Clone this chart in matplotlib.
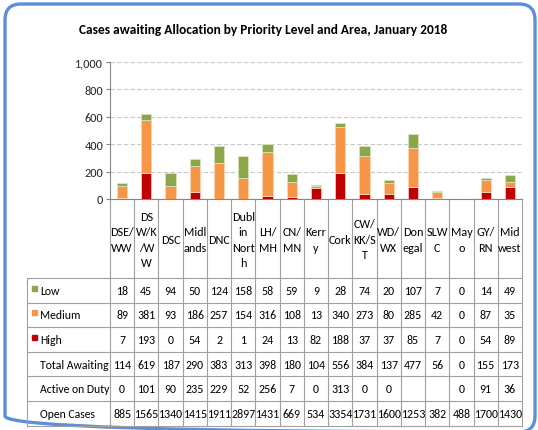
import matplotlib
matplotlib.use("Agg")
import matplotlib.pyplot as plt
from matplotlib.patches import FancyBboxPatch, Rectangle
from matplotlib.transforms import blended_transform_factory
import numpy as np

plt.rcParams['font.family'] = ['Carlito', 'Fira Sans Condensed', 'DejaVu Sans']

title = "Cases awaiting Allocation by Priority Level and Area, January 2018"
areas = ["DSE/\nWW", "DS\nW/K\n/W\nW", "DSC", "Midl\nands", "DNC", "Dubl\nin\nNort\nh",
         "LH/\nMH", "CN/\nMN", "Kerr\ny", "Cork", "CW/\nKK/S\nT", "WD/\nWX", "Don\negal",
         "SLW\nC", "May\no", "GY/\nRN", "Mid\nwest"]
low = [18, 45, 94, 50, 124, 158, 58, 59, 9, 28, 74, 20, 107, 7, 0, 14, 49]
medium = [89, 381, 93, 186, 257, 154, 316, 108, 13, 340, 273, 80, 285, 42, 0, 87, 35]
high = [7, 193, 0, 54, 2, 1, 24, 13, 82, 188, 37, 37, 85, 7, 0, 54, 89]
total = [114, 619, 187, 290, 383, 313, 398, 180, 104, 556, 384, 137, 477, 56, 0, 155, 173]
active = [0, 101, 90, 235, 229, 52, 256, 7, 0, 313, 0, 0, None, None, 0, 91, 36]
open_cases = [885, 1565, 1340, 1415, 1911, 2897, 1431, 669, 534, 3354, 1731, 1600, 1253, 382, 488, 1700, 1430]
yticks = [0, 200, 400, 600, 800, 1000]

c_high = "#C00000"
c_med = "#F79646"
c_low = "#8CA64A"
grid_c = "#C8C8C8"
line_c = "#A0A0A0"

W, H = 538, 431
fig = plt.figure(figsize=(W / 100, H / 100), dpi=100)

ov = fig.add_axes([0, 0, 1, 1])
ov.set_xlim(0, W)
ov.set_ylim(H, 0)
ov.axis("off")

ax_l, ax_r, ax_t, ax_b = 110, 522, 62.7, 200
ax = fig.add_axes([ax_l / W, 1 - ax_b / H, (ax_r - ax_l) / W, (ax_b - ax_t) / H])
ax.set_zorder(2)
ax.patch.set_alpha(0)

x = np.arange(len(areas))
bw = 0.42
ax.bar(x, high, bw, color=c_high, edgecolor="#F2C4C4", linewidth=0.6, zorder=3)
ax.bar(x, medium, bw, bottom=high, color=c_med, edgecolor="#FBD5B5", linewidth=0.6, zorder=3)
ax.bar(x, low, bw, bottom=np.array(high) + np.array(medium), color=c_low,
       edgecolor="#D7E4BD", linewidth=0.6, zorder=3)

ax.set_xlim(-0.5, len(areas) - 0.5)
ax.set_ylim(0, 1000)
ax.set_yticks(yticks)
ax.set_yticklabels([f"{v:,}" for v in yticks], fontsize=8.7, color="#262626")
ax.set_xticks([])
ax.yaxis.grid(True, color=grid_c, linestyle=(0, (4, 2)), linewidth=0.8)
ax.set_axisbelow(True)
for s in ["top", "right"]:
    ax.spines[s].set_visible(False)
ax.spines["left"].set_color("#868686")
ax.spines["bottom"].set_color("#868686")
ax.tick_params(axis="y", length=3, color="#868686", pad=2)

ov.text(263, 30, title, ha="center", va="center", fontsize=9.6, fontweight="bold", color="#000000")

bt = blended_transform_factory(ax.transData, ov.transData)
n = len(areas)
header_top = ax_b
row_top = 279
row_h = 24.6
tab_left = 27
rows = [("Low", low, c_low), ("Medium", medium, c_med), ("High", high, c_high),
        ("Total Awaiting", total, None), ("Active on Duty", active, None),
        ("Open Cases", open_cases, None)]
tab_bottom = row_top + row_h * len(rows)

lw = 0.8
for k in range(n + 1):
    xs = k - 0.5
    ov.plot([xs, xs], [header_top, tab_bottom], transform=bt, color=line_c, lw=lw, zorder=1,
            clip_on=False)
ov.plot([tab_left, tab_left], [row_top, tab_bottom], color=line_c, lw=lw, clip_on=False)
for r in range(len(rows) + 1):
    yy = row_top + r * row_h
    ov.plot([tab_left, ax_r], [yy, yy], color=line_c, lw=lw, clip_on=False)

for i, a in enumerate(areas):
    ov.text(i, (header_top + row_top) / 2 + 1, a, transform=bt, ha="center", va="center",
            fontsize=8.7, linespacing=1.5, color="#000000")

for r, (name, vals, col) in enumerate(rows):
    yc = row_top + (r + 0.5) * row_h
    if col is not None:
        ov.add_patch(Rectangle((32, yc - 4.5), 5, 5, color=col))
    ov.text(40, yc, name, ha="left", va="center", fontsize=8.5, color="#000000")
    for i, v in enumerate(vals):
        if v is None:
            continue
        ov.text(i, yc, str(v), transform=bt, ha="center", va="center", fontsize=8.6,
                color="#000000")

frame = FancyBboxPatch((5, 5), 530, 428, boxstyle="round,pad=0,rounding_size=16",
                       fill=False, edgecolor="#5B8FD8", linewidth=2.4, clip_on=False)
ov.add_patch(frame)

fig.savefig("out.png", dpi=100)
